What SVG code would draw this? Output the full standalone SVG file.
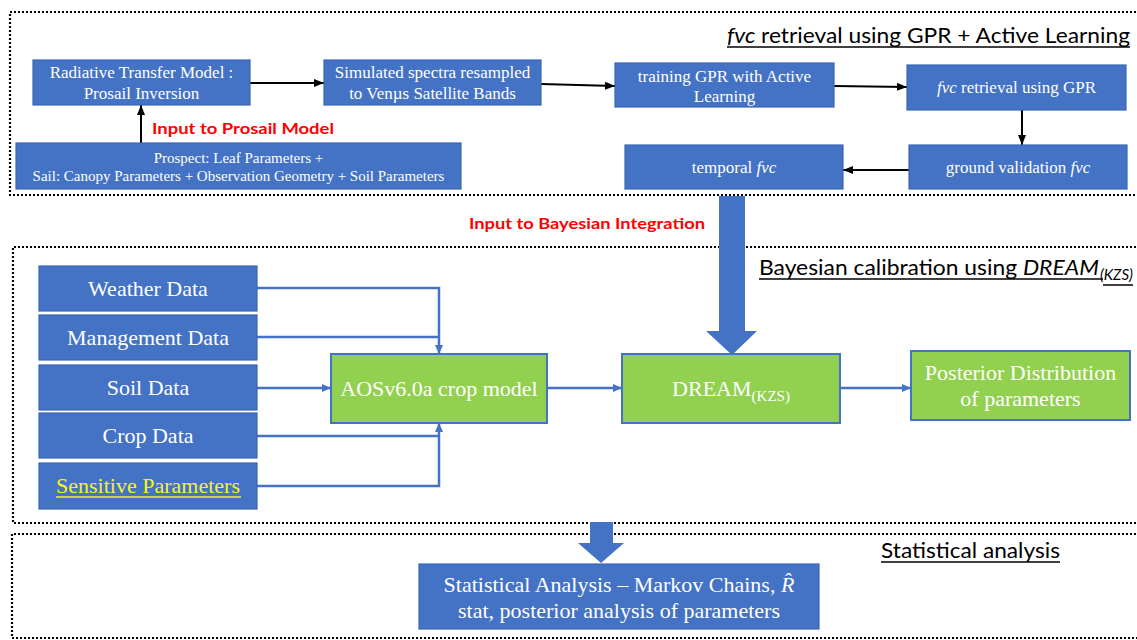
<svg xmlns="http://www.w3.org/2000/svg" width="1137" height="640" viewBox="0 0 1137 640">
  <defs>
    <style>
      .frame{fill:none;stroke:#000;stroke-width:2.2;stroke-dasharray:2 2}
      .bx{fill:#4472C4;stroke:#3B66B4;stroke-width:1.2}
      .gb{fill:#92D050;stroke:#4472C4;stroke-width:2}
      .t{font-family:"Liberation Serif","Times New Roman",serif;fill:#fff;text-anchor:middle}
      .s17{font-size:17px}
      .s15{font-size:15px}
      .s22{font-size:22px}
      .head{font-family:Lato,"Open Sans",sans-serif;font-size:22px;fill:#000}
      .red{font-family:Lato,"Open Sans",sans-serif;font-weight:bold;font-size:16px;fill:#FF0000}
      .k{fill:none;stroke:#000;stroke-width:2}
      .b{fill:none;stroke:#4472C4;stroke-width:2.5}
      .ul{stroke:#000;stroke-width:1.5}
      .big{fill:#4472C4}
      .it{font-style:italic}
    </style>
    <marker id="ahK" markerUnits="userSpaceOnUse" markerWidth="10" markerHeight="8" refX="10" refY="4" orient="auto">
      <path d="M0,0 L10,4 L0,8 Z" fill="#000"/>
    </marker>
    <marker id="ahB" markerUnits="userSpaceOnUse" markerWidth="9" markerHeight="8" refX="9" refY="4" orient="auto">
      <path d="M0,0 L9,4 L0,8 Z" fill="#4472C4"/>
    </marker>
  </defs>

  <!-- section frames (open on the right, running past the page edge) -->
  <g id="frames">
    <path class="frame" d="M1140,12 H10 V195 H1140"/>
    <path class="frame" d="M1140,247 H13 V523 H1140"/>
    <path class="frame" d="M1140,534 H12 V638 H1140"/>
  </g>

  <!-- section headings -->
  <g id="headings">
    <text class="head" x="727" y="43" textLength="403" lengthAdjust="spacingAndGlyphs"><tspan class="it">fvc</tspan> retrieval using GPR + Active Learning</text>
    <line class="ul" x1="727" y1="47" x2="1130" y2="47"/>
    <text class="head" x="759" y="275" textLength="374" lengthAdjust="spacingAndGlyphs">Bayesian calibration using <tspan class="it">DREAM</tspan><tspan class="it" font-size="14.5" dx="1" dy="5">(KZS)</tspan></text>
    <line class="ul" x1="759" y1="279" x2="1103" y2="279"/>
    <line class="ul" x1="1103" y1="285" x2="1133" y2="285"/>
    <text class="head" x="881" y="558" textLength="179" lengthAdjust="spacingAndGlyphs">Statistical analysis</text>
    <line class="ul" x1="881" y1="562" x2="1060" y2="562"/>
    <text class="red" x="152" y="134" textLength="182" lengthAdjust="spacingAndGlyphs">Input to Prosail Model</text>
    <text class="red" x="469" y="229" textLength="236" lengthAdjust="spacingAndGlyphs">Input to Bayesian Integration</text>
  </g>

  <!-- connectors -->
  <g id="connectors">
    <path class="k" d="M250,83 H324" marker-end="url(#ahK)"/>
    <path class="k" d="M541,84 L615,86" marker-end="url(#ahK)"/>
    <path class="k" d="M834,86 L907,87" marker-end="url(#ahK)"/>
    <path class="k" d="M1022,110 V145" marker-end="url(#ahK)"/>
    <path class="k" d="M909,170 H843" marker-end="url(#ahK)"/>
    <path class="k" d="M141,143 V105" marker-end="url(#ahK)"/>

    <path class="b" d="M257,288 H439 V354" marker-end="url(#ahB)"/>
    <path class="b" d="M257,337 H439"/>
    <path class="b" d="M257,388 H331" marker-end="url(#ahB)"/>
    <path class="b" d="M257,436 H439"/>
    <path class="b" d="M257,486 H439 V423" marker-end="url(#ahB)"/>
    <path class="b" d="M547,388 H622" marker-end="url(#ahB)"/>
    <path class="b" d="M840,388 H911" marker-end="url(#ahB)"/>

    <polygon class="big" points="719,196 745,196 745,331 757,331 732,355 706,331 719,331"/>
    <polygon class="big" points="590,522 613,522 613,543 624,543 601,563 578,543 590,543"/>
  </g>

  <!-- fvc retrieval nodes -->
  <g id="rtm">
    <rect class="bx" x="33" y="60" width="217" height="45"/>
    <text class="t s17" x="141.5" y="78">Radiative Transfer Model :</text>
    <text class="t s17" x="141.5" y="99">Prosail Inversion</text>
  </g>
  <g id="simulated">
    <rect class="bx" x="324" y="60" width="217" height="45"/>
    <text class="t s17" x="432.5" y="78">Simulated spectra resampled</text>
    <text class="t s17" x="432.5" y="99">to Venµs Satellite Bands</text>
  </g>
  <g id="training">
    <rect class="bx" x="615" y="63" width="219" height="44"/>
    <text class="t s17" x="724.5" y="82">training GPR with Active</text>
    <text class="t s17" x="724.5" y="102">Learning</text>
  </g>
  <g id="fvc-gpr">
    <rect class="bx" x="907" y="65" width="219" height="45"/>
    <text class="t s17" x="1016.5" y="93"><tspan class="it">fvc</tspan> retrieval using GPR</text>
  </g>
  <g id="ground">
    <rect class="bx" x="909" y="145" width="218" height="44"/>
    <text class="t s17" x="1018" y="173">ground validation <tspan class="it">fvc</tspan></text>
  </g>
  <g id="temporal">
    <rect class="bx" x="625" y="145" width="218" height="44"/>
    <text class="t s17" x="734" y="173">temporal <tspan class="it">fvc</tspan></text>
  </g>
  <g id="prospect">
    <rect class="bx" x="16" y="143" width="445" height="46"/>
    <text class="t s15" x="238.5" y="163">Prospect: Leaf Parameters +</text>
    <text class="t s15" x="238.5" y="181">Sail: Canopy Parameters + Observation Geometry + Soil Parameters</text>
  </g>

  <!-- Bayesian calibration nodes -->
  <g id="weather">
    <rect class="bx" x="39" y="266" width="218" height="45"/>
    <text class="t s22" x="148" y="296">Weather Data</text>
  </g>
  <g id="management">
    <rect class="bx" x="39" y="315" width="218" height="45"/>
    <text class="t s22" x="148" y="345">Management Data</text>
  </g>
  <g id="soil">
    <rect class="bx" x="39" y="365" width="218" height="45"/>
    <text class="t s22" x="148" y="395">Soil Data</text>
  </g>
  <g id="crop">
    <rect class="bx" x="39" y="413" width="218" height="45"/>
    <text class="t s22" x="148" y="443">Crop Data</text>
  </g>
  <g id="sensitive">
    <rect class="bx" x="39" y="463" width="218" height="46"/>
    <text class="t s22" x="148" y="493" style="fill:#F5F51E">Sensitive Parameters</text>
    <line x1="56" y1="497" x2="241" y2="497" stroke="#F5F51E" stroke-width="1.5"/>
  </g>
  <g id="aos">
    <rect class="gb" x="331" y="354" width="216" height="69"/>
    <text class="t s22" x="439" y="396">AOSv6.0a crop model</text>
  </g>
  <g id="dream">
    <rect class="gb" x="622" y="354" width="218" height="69"/>
    <text class="t s22" x="731" y="396">DREAM<tspan font-size="15" dy="5">(KZS)</tspan></text>
  </g>
  <g id="posterior">
    <rect class="gb" x="911" y="351" width="219" height="69"/>
    <text class="t s22" x="1020.5" y="380">Posterior Distribution</text>
    <text class="t s22" x="1020.5" y="406">of parameters</text>
  </g>

  <!-- statistical analysis node -->
  <g id="stats">
    <rect class="bx" x="419" y="564" width="400" height="65"/>
    <text class="t s22" x="619" y="592">Statistical Analysis – Markov Chains, <tspan class="it">R̂</tspan></text>
    <text class="t s22" x="619" y="618">stat, posterior analysis of parameters</text>
  </g>
</svg>
